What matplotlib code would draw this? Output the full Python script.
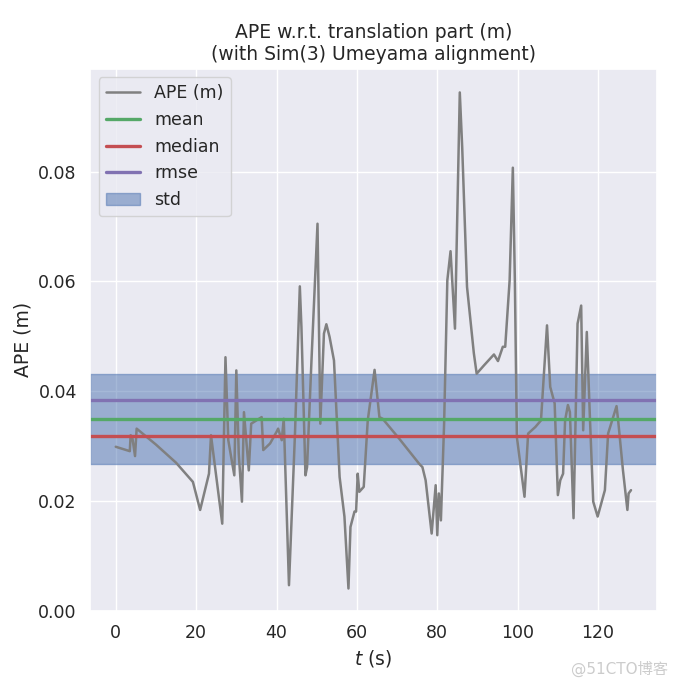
import matplotlib
matplotlib.use("Agg")
import matplotlib.pyplot as plt
import seaborn as sns

t = [0.0, 3.5, 3.7, 4.1, 4.8, 5.2, 10.0, 15.0, 19.2, 21.0, 23.2, 23.7, 26.5, 27.3, 28.0,
     29.5, 30.0, 30.6, 31.4, 31.9, 33.1, 33.7, 36.3, 36.7, 38.4, 40.0, 40.4, 41.3, 41.8,
     43.1, 44.6, 45.8, 46.2, 47.2, 47.6, 48.7, 50.2, 50.9, 51.8, 52.4, 53.2, 54.3, 55.7,
     56.9, 57.9, 58.4, 59.4, 59.8, 60.2, 60.6, 61.7, 62.7, 64.4, 65.6, 66.4, 70.5, 75.5,
     76.3, 77.1, 78.6, 79.6, 80.0, 80.4, 80.9, 81.7, 82.5, 83.3, 84.4, 85.6, 86.2, 87.4,
     89.1, 89.8, 91.6, 94.1, 95.1, 96.3, 96.9, 98.0, 98.8, 99.3, 99.8, 101.7, 102.6,
     104.4, 105.8, 107.3, 108.1, 109.2, 110.0, 110.6, 111.3, 111.8, 112.5, 113.0, 113.9,
     114.9, 115.8, 116.3, 117.2, 118.0, 118.8, 119.9, 121.7, 122.5, 124.6, 125.0, 126.2,
     127.3, 127.6, 128.2]
ape = [0.0299, 0.0291, 0.0320, 0.0317, 0.0282, 0.0332, 0.0303, 0.0270, 0.0235, 0.0184,
       0.0250, 0.0320, 0.0159, 0.0462, 0.0311, 0.0247, 0.0438, 0.0287, 0.0199, 0.0362,
       0.0256, 0.0341, 0.0353, 0.0293, 0.0305, 0.0326, 0.0332, 0.0311, 0.0350, 0.0047,
       0.0324, 0.0591, 0.0517, 0.0247, 0.0262, 0.0456, 0.0705, 0.0341, 0.0505, 0.0522,
       0.0499, 0.0456, 0.0244, 0.0172, 0.0041, 0.0153, 0.0181, 0.0181, 0.0250, 0.0217,
       0.0226, 0.0347, 0.0439, 0.0353, 0.0350, 0.0314, 0.0268, 0.0262, 0.0238, 0.0141,
       0.0229, 0.0138, 0.0214, 0.0165, 0.0341, 0.0602, 0.0655, 0.0514, 0.0944, 0.0844,
       0.0590, 0.0469, 0.0432, 0.0447, 0.0467, 0.0455, 0.0481, 0.0481, 0.0602, 0.0807,
       0.0602, 0.0317, 0.0208, 0.0323, 0.0335, 0.0347, 0.0520, 0.0408, 0.0378, 0.0211,
       0.0238, 0.0250, 0.0347, 0.0375, 0.0362, 0.0169, 0.0523, 0.0556, 0.0329, 0.0508,
       0.0347, 0.0199, 0.0172, 0.0220, 0.0323, 0.0373, 0.0347, 0.0256, 0.0184, 0.0214,
       0.0220]

mean_val = 0.0349
median_val = 0.0318
rmse_val = 0.0384
std_val = 0.0082

sns.set_theme(style="darkgrid")
plt.rcParams['font.family'] = ['DejaVu Sans', 'Noto Sans CJK SC']

fig = plt.figure(figsize=(6.75, 6.84), dpi=100)
ax = fig.add_axes([0.1333, 0.1067, 0.8397, 0.7927])

ax.plot(t, ape, color="gray", lw=1.8, label="APE (m)")
ax.axhline(mean_val, color="#55A868", lw=2.4, label="mean")
ax.axhline(median_val, color="#C44E52", lw=2.4, label="median")
ax.axhline(rmse_val, color="#8172B2", lw=2.4, label="rmse")
ax.axhspan(mean_val - std_val, mean_val + std_val, color="#4C72B0", alpha=0.5, label="std")

ax.set_ylim(0, 0.0987)
ax.set_xticks([0, 20, 40, 60, 80, 100, 120])
ax.set_yticks([0.00, 0.02, 0.04, 0.06, 0.08])
ax.tick_params(labelsize=12.5)
ax.set_xlabel("$t$ (s)", fontsize=13.5)
ax.set_ylabel("APE (m)", fontsize=13.5)
ax.set_title("APE w.r.t. translation part (m)\n(with Sim(3) Umeyama alignment)", fontsize=13.5)
ax.legend(loc="upper left", fontsize=12.5, frameon=True)

fig.text(0.99, 0.01, "@51CTO博客", ha="right", va="bottom", fontsize=11,
         color="#cccccc", family=["DejaVu Sans", "Noto Sans CJK SC"])

fig.savefig("out.png", dpi=100)
